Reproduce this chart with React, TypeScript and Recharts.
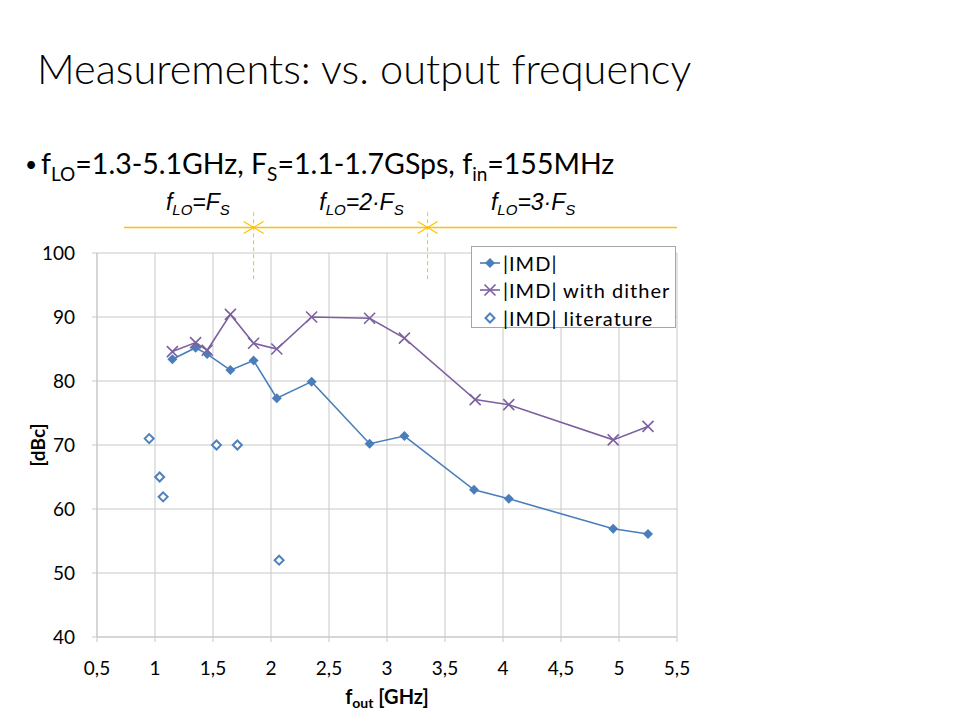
import React from 'react';
import {
  ScatterChart,
  Scatter,
  XAxis,
  YAxis,
  CartesianGrid,
  ReferenceLine,
  ReferenceDot,
  Legend,
} from 'recharts';

// f_out [GHz] and |IMD| [dBc]
const imdFreq = [1.15, 1.35, 1.45, 1.65, 1.85, 2.05, 2.35, 2.85, 3.15, 3.75, 4.05, 4.95, 5.25];
const imdValues = [83.4, 85.2, 84.2, 81.7, 83.2, 77.3, 79.9, 70.2, 71.4, 63.0, 61.6, 56.9, 56.1];
const ditherFreq = [1.15, 1.35, 1.45, 1.65, 1.85, 2.05, 2.35, 2.85, 3.15, 3.76, 4.05, 4.95, 5.25];
const ditherValues = [84.6, 86.0, 84.8, 90.4, 85.9, 85.0, 90.0, 89.8, 86.7, 77.1, 76.3, 70.8, 72.9];
const litFreq = [0.95, 1.04, 1.07, 1.53, 1.71, 2.07];
const litValues = [71.0, 65.0, 61.9, 70.0, 70.0, 52.0];

const xTicks = [0.5, 1, 1.5, 2, 2.5, 3, 3.5, 4, 4.5, 5, 5.5];
const yTicks = [40, 50, 60, 70, 80, 90, 100];

// f_LO = k*F_S regions above the plot (in GHz)
const regionBounds = [1.85, 3.35];
const regionMultipliers = ['', '2·', '3·'];
const regionLabelX = [1.37, 2.78, 4.26];

const BLUE = '#4a7ebb';
const PURPLE = '#7d60a0';
const LIT_BLUE = '#4f81bd';
const GOLD = '#ffc000';
const GRID = '#c8c8c8';
const FONT = 'Lato, "Open Sans", sans-serif';
const ARIAL = '"Liberation Sans", Arial, sans-serif';

const toPoints = (xs: number[], ys: number[]) => xs.map((x, i) => ({ x, y: ys[i] }));
const imdData = toPoints(imdFreq, imdValues);
const ditherData = toPoints(ditherFreq, ditherValues);
const litData = toPoints(litFreq, litValues);

function FilledDiamond({ cx, cy }: any) {
  const r = 5;
  return <path d={`M${cx},${cy - r}L${cx + r},${cy}L${cx},${cy + r}L${cx - r},${cy}Z`} fill={BLUE} />;
}

function OpenDiamond({ cx, cy }: any) {
  const r = 4.5;
  return (
    <path
      d={`M${cx},${cy - r}L${cx + r},${cy}L${cx},${cy + r}L${cx - r},${cy}Z`}
      fill="#fff"
      stroke={LIT_BLUE}
      strokeWidth={2}
    />
  );
}

function XMark({ cx, cy }: any) {
  const r = 5.5;
  return (
    <path
      d={`M${cx - r},${cy - r}L${cx + r},${cy + r}M${cx - r},${cy + r}L${cx + r},${cy - r}`}
      stroke={PURPLE}
      strokeWidth={1.6}
      fill="none"
    />
  );
}

function ArrowPair({ cx, cy }: any) {
  return (
    <path
      d={`M${cx - 10},${cy - 6}L${cx},${cy}L${cx - 10},${cy + 6}M${cx + 10},${cy - 6}L${cx},${cy}L${cx + 10},${cy + 6}`}
      stroke={GOLD}
      strokeWidth={1.2}
      fill="none"
    />
  );
}

function RegionLabel({ cx, cy, mult }: any) {
  return (
    <text x={cx} y={cy} textAnchor="middle" fontFamily={ARIAL} fontStyle="italic" fontSize={23} fill="#000">
      f
      <tspan fontSize={15} dy={5}>LO</tspan>
      <tspan dy={-5}>={mult}F</tspan>
      <tspan fontSize={15} dy={5}>S</tspan>
    </text>
  );
}

const legendItems = [
  { name: '|IMD|', color: BLUE, Marker: FilledDiamond, line: true },
  { name: '|IMD| with dither', color: PURPLE, Marker: XMark, line: true },
  { name: '|IMD| literature', color: LIT_BLUE, Marker: OpenDiamond, line: false },
];

function LegendBox() {
  return (
    <div
      style={{
        border: '1px solid #a6a6a6',
        background: '#fff',
        width: 205,
        height: 82,
        boxSizing: 'border-box',
        padding: '2px 0 0 7px',
        fontFamily: FONT,
        fontSize: 20,
        letterSpacing: 1,
        color: '#000',
      }}
    >
      {legendItems.map((it) => (
        <div key={it.name} style={{ display: 'flex', alignItems: 'center', height: 27.5 }}>
          <svg width={22} height={16} style={{ marginRight: 2 }}>
            {it.line && <line x1={1} y1={8} x2={21} y2={8} stroke={it.color} strokeWidth={1.6} />}
            <it.Marker cx={11} cy={8} />
          </svg>
          <span>{it.name}</span>
        </div>
      ))}
    </div>
  );
}

const XTitle = ({ viewBox }: any) => (
  <text
    x={viewBox.x + viewBox.width / 2}
    y={viewBox.y + 67}
    textAnchor="middle"
    fontFamily={FONT}
    fontWeight="bold"
    fontSize={20}
    fill="#000"
  >
    f<tspan fontSize={14} dy={4}>out</tspan>
    <tspan dy={-4}> [GHz]</tspan>
  </text>
);

const YTitle = ({ viewBox }: any) => {
  const cx = 37;
  const cy = viewBox.y + viewBox.height / 2;
  return (
    <text
      x={cx}
      y={cy}
      transform={`rotate(-90 ${cx} ${cy})`}
      textAnchor="middle"
      dominantBaseline="central"
      fontFamily={FONT}
      fontWeight="bold"
      fontSize={19}
      fill="#000"
    >
      [dBc]
    </text>
  );
};

export default function App() {
  const tickStyle = { fontSize: 19, fill: '#000', fontFamily: FONT };
  return (
    <div style={{ position: 'absolute', left: 0, top: 0, width: 960, height: 720, background: '#fff' }}>
      <svg width={960} height={200} style={{ position: 'absolute', left: 0, top: 0 }}>
        <text x={37} y={84} fontFamily={FONT} fontWeight={300} fontSize={41.5} fill="#000">
          Measurements: vs. output frequency
        </text>
        <text x={25} y={172} fontFamily={FONT} fontSize={21} fill="#000">•</text>
        <text x={41} y={174} fontFamily={FONT} fontSize={28.5} fill="#000">
          f<tspan fontSize={19} dy={7}>LO</tspan>
          <tspan dy={-7}>=1.3-5.1GHz, F</tspan>
          <tspan fontSize={19} dy={7}>S</tspan>
          <tspan dy={-7}>=1.1-1.7GSps, f</tspan>
          <tspan fontSize={19} dy={7}>in</tspan>
          <tspan dy={-7}>=155MHz</tspan>
        </text>
      </svg>
      <div style={{ position: 'absolute', left: 0, top: 0 }}>
        <ScatterChart width={960} height={720} margin={{ top: 253, right: 283, bottom: 33, left: 37 }}>
          <CartesianGrid stroke={GRID} />
          <XAxis
            type="number"
            dataKey="x"
            domain={[0.5, 5.5]}
            ticks={xTicks}
            interval={0}
            allowDataOverflow
            tickFormatter={(v: number) => String(v).replace('.', ',')}
            tick={tickStyle}
            tickSize={5}
            tickMargin={20}
            tickLine={{ stroke: GRID }}
            axisLine={{ stroke: GRID }}
            height={50}
            label={<XTitle />}
          />
          <YAxis
            type="number"
            dataKey="y"
            domain={[40, 100]}
            ticks={yTicks}
            interval={0}
            allowDataOverflow
            tick={tickStyle}
            tickSize={5}
            tickMargin={17}
            tickLine={{ stroke: GRID }}
            axisLine={{ stroke: GRID }}
            width={60}
            label={<YTitle />}
          />
          <ReferenceLine
            segment={[{ x: 0.733, y: 104 }, { x: 5.5, y: 104 }]}
            stroke={GOLD}
            strokeWidth={1.5}
            ifOverflow="visible"
          />
          {regionBounds.map((b) => (
            <ReferenceLine
              key={`d${b}`}
              segment={[{ x: b, y: 95.9 }, { x: b, y: 106.4 }]}
              stroke={GOLD}
              strokeDasharray="4 3"
              ifOverflow="visible"
            />
          ))}
          {regionBounds.map((b) => (
            <ReferenceDot key={`a${b}`} x={b} y={104} ifOverflow="visible" shape={(p: any) => <ArrowPair {...p} />} />
          ))}
          {regionLabelX.map((lx, i) => (
            <ReferenceDot
              key={`l${i}`}
              x={lx}
              y={106.7}
              ifOverflow="visible"
              shape={(p: any) => <RegionLabel {...p} mult={regionMultipliers[i]} />}
            />
          ))}
          <Scatter
            name="|IMD|"
            data={imdData}
            line={{ stroke: BLUE, strokeWidth: 1.6 }}
            shape={(p: any) => <FilledDiamond {...p} />}
            isAnimationActive={false}
          />
          <Scatter
            name="|IMD| with dither"
            data={ditherData}
            line={{ stroke: PURPLE, strokeWidth: 1.6 }}
            shape={(p: any) => <XMark {...p} />}
            isAnimationActive={false}
          />
          <Scatter
            name="|IMD| literature"
            data={litData}
            shape={(p: any) => <OpenDiamond {...p} />}
            isAnimationActive={false}
          />
          <Legend
            layout="horizontal"
            verticalAlign="middle"
            align="center"
            content={() => <LegendBox />}
            wrapperStyle={{ left: 471, top: 246, width: 205, height: 82 }}
          />
        </ScatterChart>
      </div>
    </div>
  );
}
